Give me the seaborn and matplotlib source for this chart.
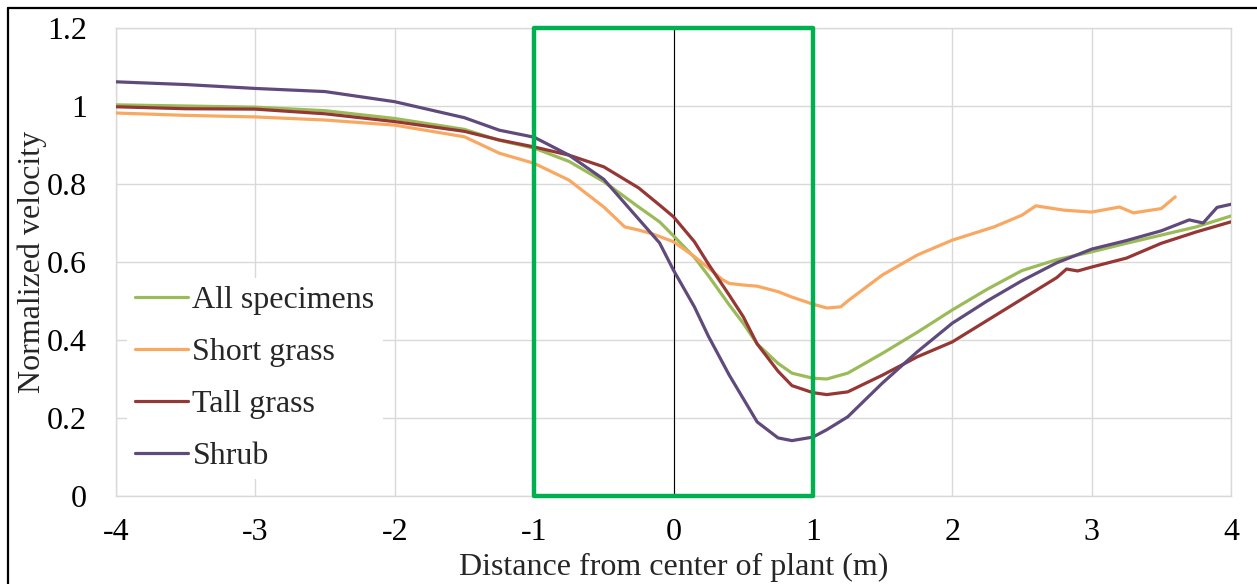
import numpy as np
import pandas as pd
import matplotlib
matplotlib.use("Agg")
import matplotlib.pyplot as plt
import matplotlib.patches as mpatches
from matplotlib.lines import Line2D
import seaborn as sns

# ---- data ----
series_names = ["All specimens", "Short grass", "Tall grass", "Shrub"]

all_x = [-4, -3.5, -3, -2.5, -2, -1.5, -1.25, -1, -0.75, -0.5, -0.25, -0.1, 0, 0.15, 0.25,
         0.4, 0.5, 0.6, 0.75, 0.85, 1.0, 1.1, 1.25, 1.5, 1.75, 2.0, 2.25, 2.5, 2.75, 3.0,
         3.25, 3.5, 3.75, 4.0]
all_y = [1.003, 1.0, 0.997, 0.988, 0.968, 0.940, 0.912, 0.892, 0.858, 0.806, 0.741, 0.703,
         0.667, 0.612, 0.565, 0.49, 0.443, 0.39, 0.34, 0.315, 0.302, 0.30, 0.315, 0.366,
         0.42, 0.477, 0.53, 0.578, 0.606, 0.626, 0.648, 0.669, 0.69, 0.718]

short_x = [-4, -3.5, -3, -2.5, -2, -1.5, -1.25, -1, -0.75, -0.5, -0.35, -0.25, -0.15, 0,
           0.15, 0.25, 0.35, 0.4, 0.5, 0.6, 0.75, 0.85, 1.0, 1.1, 1.2, 1.25, 1.5, 1.75,
           2.0, 2.3, 2.5, 2.6, 2.8, 3.0, 3.2, 3.3, 3.5, 3.6]
short_y = [0.982, 0.976, 0.972, 0.964, 0.951, 0.921, 0.879, 0.853, 0.81, 0.741, 0.69,
           0.682, 0.672, 0.652, 0.614, 0.585, 0.555, 0.545, 0.541, 0.538, 0.524, 0.51,
           0.492, 0.482, 0.485, 0.50, 0.567, 0.618, 0.656, 0.69, 0.72, 0.744, 0.733,
           0.728, 0.741, 0.726, 0.737, 0.767]

tall_x = [-4, -3.5, -3, -2.5, -2, -1.5, -1.25, -1, -0.75, -0.5, -0.25, -0.1, 0, 0.15,
          0.25, 0.4, 0.5, 0.6, 0.75, 0.85, 1.0, 1.1, 1.25, 1.5, 1.75, 2.0, 2.25, 2.5,
          2.75, 2.82, 2.9, 3.0, 3.25, 3.5, 3.75, 4.0]
tall_y = [0.998, 0.993, 0.992, 0.980, 0.960, 0.935, 0.913, 0.895, 0.874, 0.844, 0.79,
          0.746, 0.716, 0.652, 0.595, 0.515, 0.46, 0.39, 0.32, 0.283, 0.265, 0.26, 0.267,
          0.31, 0.357, 0.395, 0.45, 0.505, 0.56, 0.582, 0.577, 0.587, 0.61, 0.648,
          0.677, 0.703]

shrub_x = [-4, -3.5, -3, -2.5, -2, -1.5, -1.25, -1, -0.75, -0.5, -0.25, -0.1, 0, 0.15,
           0.25, 0.4, 0.5, 0.6, 0.75, 0.85, 1.0, 1.1, 1.25, 1.5, 1.75, 2.0, 2.25, 2.5,
           2.75, 3.0, 3.25, 3.5, 3.7, 3.8, 3.9, 4.0]
shrub_y = [1.062, 1.055, 1.045, 1.037, 1.011, 0.970, 0.938, 0.920, 0.874, 0.812, 0.71,
           0.649, 0.579, 0.485, 0.41, 0.31, 0.25, 0.19, 0.149, 0.142, 0.151, 0.17, 0.203,
           0.29, 0.37, 0.443, 0.50, 0.552, 0.598, 0.633, 0.655, 0.68, 0.708, 0.70, 0.74,
           0.748]

x_ticks = [-4, -3, -2, -1, 0, 1, 2, 3, 4]
y_ticks = [0, 0.2, 0.4, 0.6, 0.8, 1.0, 1.2]
y_tick_labels = ["0", "0.2", "0.4", "0.6", "0.8", "1", "1.2"]
x_label = "Distance from center of plant (m)"
y_label = "Normalized velocity"

colors = ["#9BBB59", "#F9A862", "#953735", "#604A7B"]

frames = []
for name, xs, ys in zip(series_names, [all_x, short_x, tall_x, shrub_x],
                        [all_y, short_y, tall_y, shrub_y]):
    frames.append(pd.DataFrame({"x": xs, "y": ys, "series": name}))
df = pd.concat(frames, ignore_index=True)

# ---- plotting ----
sns.set_theme(style="white")
plt.rcParams["font.family"] = ["Liberation Serif", "DejaVu Serif"]
FS = 23

fig = plt.figure(figsize=(12.57, 5.84), dpi=100)
ax = fig.add_axes([116 / 1257, 1 - 496 / 584, (1231 - 116) / 1257, (496 - 28) / 584])

sns.lineplot(data=df, x="x", y="y", hue="series", hue_order=series_names,
             palette=colors, estimator=None, sort=False, linewidth=2.3, ax=ax,
             legend=False, zorder=3)

ax.set_xlim(-4, 4)
ax.set_ylim(0, 1.2)
ax.set_xticks(x_ticks)
ax.set_xticklabels([str(t) for t in x_ticks])
ax.set_yticks(y_ticks)
ax.set_yticklabels(y_tick_labels)
ax.grid(True, color="#D9D9D9", linewidth=1.0, zorder=0)
ax.set_axisbelow(True)
for s in ax.spines.values():
    s.set_color("#D9D9D9")
    s.set_linewidth(1.0)
ax.tick_params(axis="both", length=0, labelsize=FS, colors="black")
ax.tick_params(axis="x", pad=16)
ax.tick_params(axis="y", pad=21)
ax.set_xlabel(x_label, fontsize=FS, labelpad=0)
ax.set_ylabel(y_label, fontsize=FS, va="center")
ax.yaxis.set_label_coords((32 - 116) / 1115, 0.5)
ax.xaxis.set_label_coords(0.5, (496 - 567) / 468)
ax.xaxis.label.set_va("center")

# center line and highlighted region
ax.axvline(0, color="black", linewidth=0.8, zorder=2)
rect = mpatches.Rectangle((-1, 0), 2, 1.2, fill=False, edgecolor="#00B050",
                          linewidth=3.2, clip_on=False, zorder=4, joinstyle="round")
ax.add_patch(rect)

handles = [Line2D([0], [0], color=c, linewidth=2.3) for c in colors]
leg = ax.legend(handles, series_names, loc="upper left",
                bbox_to_anchor=((127 - 116) / 1115, (496 - 278) / 468),
                frameon=True, fontsize=FS, handlelength=1.65, handletextpad=0.15,
                labelspacing=0.71, borderpad=0.25, borderaxespad=0)
leg.get_frame().set_facecolor("white")
leg.get_frame().set_edgecolor("none")
leg.get_frame().set_alpha(1.0)
leg.set_zorder(5)

# figure border (left and top)
fig.add_artist(Line2D([8 / 1257, 8 / 1257], [0, 1 - 8 / 584], color="black",
                      linewidth=1.6, transform=fig.transFigure))
fig.add_artist(Line2D([8 / 1257, 1], [1 - 8 / 584, 1 - 8 / 584], color="black",
                      linewidth=1.6, transform=fig.transFigure))

fig.savefig("out.png", dpi=100, facecolor="white")
